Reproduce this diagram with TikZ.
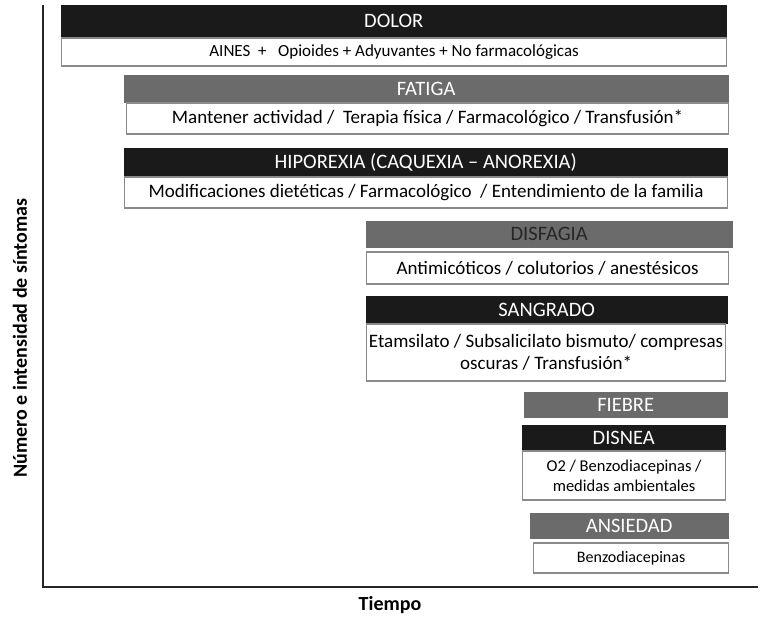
\documentclass[tikz,border=0pt]{standalone}
\usepackage{fontspec}
\setmainfont{Carlito}
\usepackage{tikz}
\usetikzlibrary{positioning}

\definecolor{hdark}{HTML}{1A1A1A}
\definecolor{hgrey}{HTML}{6B6B6B}
\definecolor{boxline}{HTML}{8A8A8A}

\tikzset{
  hdrdark/.style={fill=hdark, draw=hdark, text=white, inner sep=0pt, anchor=north west,
    font=\fontsize{20.5}{24}\selectfont},
  hdrgrey/.style={hdrdark, fill=hgrey, draw=hgrey},
  bodybox/.style={draw=boxline, fill=white, line width=1.2pt, inner sep=0pt, align=center,
    font=\fontsize{19}{22.5}\selectfont},
  axisline/.style={line width=2pt, black!85},
  axislabel/.style={font=\bfseries\fontsize{20}{24}\selectfont},
}

\begin{document}
\begin{tikzpicture}[x=1pt, y=-1pt]
  \useasboundingbox (0,0) rectangle (760,618);

  % axes
  \coordinate (ytop) at (43,5);
  \coordinate (origin) at (43,587);
  \coordinate (xend) at (758,587);
  \draw[axisline] (ytop) -- (origin) -- (xend);
  \node (ylab) [axislabel, rotate=90] at (20,338) {Número e intensidad de síntomas};
  \node (xlab) [axislabel] at (390,605) {Tiempo};

  % symptoms
  \node (dolorH) [hdrdark, minimum width=665, minimum height=32] at (61,5) {DOLOR};
  \node (dolorB) [bodybox, minimum width=665, minimum height=28, font=\fontsize{17}{20}\selectfont,
    below right=0pt and 0pt of dolorH.south west]
    {AINES \ +\ \ \ Opioides + Adyuvantes + No farmacológicas};

  \node (fatigaH) [hdrgrey, minimum width=604, minimum height=27] at (124,75) {FATIGA};
  \node (fatigaB) [bodybox, minimum width=602, minimum height=31,
    below right=0pt and 2pt of fatigaH.south west]
    {Mantener actividad /\ \ Terapia física / Farmacológico / Transfusión*};

  \node (hipoH) [hdrdark, minimum width=603, minimum height=28] at (124,148)
    {HIPOREXIA (CAQUEXIA – ANOREXIA)};
  \node (hipoB) [bodybox, minimum width=603, minimum height=31,
    below right=0pt and 0pt of hipoH.south west]
    {Modificaciones dietéticas / Farmacológico\ \ / Entendimiento de la familia};

  \node (disfH) [hdrgrey, minimum width=366, minimum height=26, text=black!85] at (366,221) {DISFAGIA};
  \node (disfB) [bodybox, minimum width=362, minimum height=32,
    below right=4pt and 0pt of disfH.south west]
    {Antimicóticos / colutorios / anestésicos};

  \node (sangH) [hdrdark, minimum width=361, minimum height=27] at (366,296) {SANGRADO};
  \node (sangB) [bodybox, minimum width=359, minimum height=57,
    below right=0pt and 0pt of sangH.south west]
    {Etamsilato / Subsalicilato bismuto/ compresas\\oscuras / Transfusión*};

  \node (fiebre) [hdrgrey, minimum width=203, minimum height=25] at (524,392) {FIEBRE};

  \node (disnH) [hdrdark, minimum width=203, minimum height=25] at (522,425) {DISNEA};
  \node (disnB) [bodybox, minimum width=203, minimum height=49, font=\fontsize{16.5}{20}\selectfont,
    below right=0pt and 0pt of disnH.south west]
    {O2 / Benzodiacepinas /\\medidas ambientales};

  \node (ansH) [hdrgrey, minimum width=198, minimum height=25] at (530,513) {ANSIEDAD};
  \node (ansB) [bodybox, minimum width=195, minimum height=30, font=\fontsize{16}{19}\selectfont,
    below right=4pt and 3pt of ansH.south west]
    {Benzodiacepinas};
\end{tikzpicture}
\end{document}
